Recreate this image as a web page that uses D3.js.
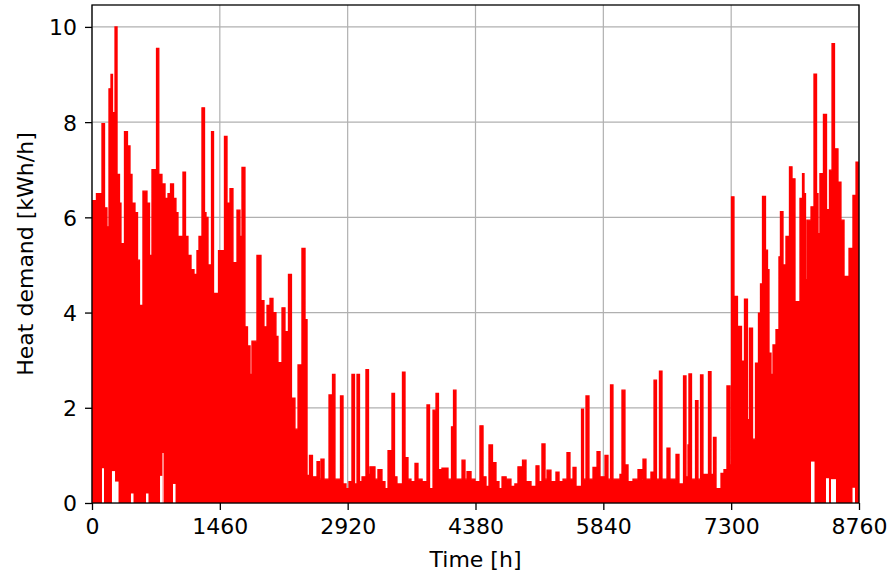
<!DOCTYPE html>
<html><head><meta charset="utf-8">
<script src="https://cdn.jsdelivr.net/npm/d3@7"></script>
<style>body{margin:0;background:#fff} text{font-family:"DejaVu Sans",sans-serif;fill:#000}</style>
</head><body><svg id="c" width="890" height="575"></svg>
<script>
// Tick labels
const xTicks = [0, 1460, 2920, 4380, 5840, 7300, 8760];
const yTicks = [0, 2, 4, 6, 8, 10];

// Heat demand profile [hour, kWh/h] (value held until next hour listed)
const winterStart = [[0,6.35],[51,6.5],[114,7.97],[143,6.2],[171,5.8],[194,8.7],[217,9.0],[234,8.2],[263,10.0],[286,6.9],[314,6.3],[331,5.45],[371,7.8],[405,7.5],[434,6.9],[457,6.3],[491,6.1],[520,5.1],[542,4.15],[582,6.55],[628,6.3],[657,5.2],[685,7.0],[737,9.55],[763,6.9],[799,6.7],[834,6.4],[868,6.5],[897,6.7],[931,6.4],[959,6.1],[982,5.6],[1039,6.95],[1068,5.6],[1096,5.2],[1131,4.9],[1165,4.8],[1199,5.3],[1222,5.6],[1256,8.3],[1285,6.1],[1302,6.0],[1325,5.0],[1365,7.8],[1388,4.4],[1445,5.3],[1513,7.7],[1542,6.3],[1576,6.6],[1610,5.05],[1656,6.15],[1690,5.6],[1713,7.05],[1747,3.7],[1776,3.3],[1805,2.7],[1827,3.4],[1884,5.2],[1930,4.25],[1964,3.7],[1999,4.15],[2033,4.3],[2067,4.0],[2101,3.5],[2124,2.95],[2170,4.1],[2204,3.6],[2244,4.8],[2278,2.2],[2318,1.55],[2353,2.9],[2398,5.35],[2433,3.85],[2456,0.58]];
const summer = [[2484,1.0],[2518,0.55],[2570,0.87],[2598,0.5],[2615,0.92],[2650,0.5],[2707,2.27],[2735,0.6],[2747,2.7],[2775,0.5],[2838,2.25],[2867,0.4],[2901,0.3],[2935,0.45],[2969,2.7],[2998,0.4],[3027,2.7],[3055,0.45],[3084,0.55],[3129,2.8],[3158,0.6],[3175,0.76],[3232,0.5],[3266,0.7],[3312,0.45],[3346,0.3],[3381,1.1],[3426,2.3],[3455,0.55],[3483,0.4],[3546,2.75],[3575,0.95],[3609,0.5],[3643,0.45],[3689,0.83],[3723,0.5],[3770,0.45],[3826,2.06],[3855,0.3],[3895,1.95],[3929,2.3],[3957,0.7],[3997,0.73],[4066,0.5],[4106,1.6],[4129,2.37],[4157,0.5],[4226,0.9],[4260,0.5],[4283,0.66],[4329,0.5],[4374,0.45],[4431,1.62],[4466,0.55],[4500,0.35],[4534,1.22],[4574,0.85],[4614,0.45],[4648,0.3],[4683,0.55],[4730,0.5],[4785,0.35],[4830,0.4],[4865,0.76],[4917,0.9],[4957,0.45],[5014,0.35],[5071,0.78],[5105,0.45],[5139,1.24],[5174,0.5],[5197,0.69],[5242,0.45],[5299,0.65],[5334,0.45],[5380,0.5],[5425,1.06],[5459,0.5],[5494,0.75],[5528,0.35],[5591,1.97],[5614,0.5],[5642,2.25],[5676,0.5],[5722,0.75],[5768,1.08],[5802,0.55],[5859,1.0],[5893,0.5],[5922,2.48],[5950,0.5],[6030,0.6],[6053,2.37],[6087,0.8],[6122,0.45],[6179,0.5],[6236,0.7],[6282,0.5],[6293,0.92],[6327,0.5],[6384,0.65],[6419,2.58],[6447,0.5],[6481,2.77],[6510,0.5],[6567,1.15],[6601,0.5],[6670,1.02],[6704,0.4],[6756,2.67],[6784,0.55],[6807,1.22],[6818,2.71],[6847,0.5],[6893,2.15],[6921,0.5],[6950,2.69],[6978,0.6],[7041,2.76],[7070,0.6],[7098,1.38],[7127,0.3],[7184,0.62],[7218,0.7],[7252,2.46],[7287,0.8]];
const winterEnd = [[7304,6.43],[7332,4.34],[7372,3.71],[7418,2.98],[7452,4.28],[7486,1.75],[7509,3.67],[7544,1.34],[7578,2.94],[7612,3.99],[7635,4.6],[7658,6.44],[7692,5.31],[7715,4.9],[7732,3.15],[7755,2.7],[7778,3.32],[7812,3.64],[7846,5.17],[7863,6.12],[7892,5.0],[7926,5.6],[7966,7.06],[7995,6.81],[8029,4.23],[8086,6.4],[8115,6.92],[8132,6.5],[8149,4.69],[8166,5.94],[8212,6.22],[8246,9.01],[8275,6.5],[8292,5.66],[8314,6.92],[8354,8.16],[8389,6.16],[8423,6.99],[8452,9.65],[8480,7.44],[8520,6.74],[8554,5.94],[8589,4.76],[8646,5.35],[8691,6.46],[8726,7.16],[8760,7.16]];

// Daily minima that leave white gaps at the bottom: [fromHour, toHour, kWh/h]
const troughs = [[114,137,0.73],[228,263,0.67],[263,303,0.45],[445,474,0.2],[617,645,0.2],[777,805,0.57],[805,817,1.05],[925,954,0.4],[8212,8252,0.87],[8383,8417,0.52],[8440,8497,0.5],[8686,8714,0.32]];

const W = 890, H = 575;
const m = {l: 92, r: 31, t: 5, b: 72};
const svg = d3.select('#c');
const x = d3.scaleLinear().domain([0, 8760]).range([m.l, W - m.r]);
const y = d3.scaleLinear().domain([0, 10.46]).range([H - m.b, m.t]);

const data = winterStart.concat(summer, winterEnd);

// grid
const g = svg.append('g');
g.selectAll('line.gx').data(xTicks).join('line')
  .attr('x1', d => x(d)).attr('x2', d => x(d)).attr('y1', y.range()[0]).attr('y2', y.range()[1])
  .attr('stroke', '#b0b0b0').attr('stroke-width', 1.2);
g.selectAll('line.gy').data(yTicks).join('line')
  .attr('y1', d => y(d)).attr('y2', d => y(d)).attr('x1', x.range()[0]).attr('x2', x.range()[1])
  .attr('stroke', '#b0b0b0').attr('stroke-width', 1.2);

// data
const area = d3.area().x(d => x(d[0])).y0(y(0)).y1(d => y(d[1])).curve(d3.curveStepAfter);
const line = d3.line().x(d => x(d[0])).y(d => y(d[1])).curve(d3.curveStepAfter);
svg.append('path').datum(data).attr('d', area).attr('fill', '#ff0000');
svg.append('path').datum(data).attr('d', line).attr('fill', 'none').attr('stroke', '#ff0000').attr('stroke-width', 1.3);
svg.selectAll('rect.tr').data(troughs).join('rect')
  .attr('x', d => x(d[0])).attr('width', d => x(d[1]) - x(d[0]))
  .attr('y', d => y(d[2])).attr('height', d => y(0) - y(d[2]))
  .attr('fill', '#fff');

// axes
const ax = svg.append('g').attr('transform', `translate(0,${y(0)})`)
  .call(d3.axisBottom(x).tickValues(xTicks).tickFormat(d3.format('d')).tickSize(7).tickPadding(8));
const ay = svg.append('g').attr('transform', `translate(${x(0)},0)`)
  .call(d3.axisLeft(y).tickValues(yTicks).tickFormat(d3.format('d')).tickSize(7).tickPadding(8));
[ax, ay].forEach(a => {
  a.select('.domain').remove();
  a.selectAll('line').attr('stroke', '#000').attr('stroke-width', 1.3);
  a.selectAll('text').attr('font-size', 22).attr('font-family', '"DejaVu Sans",sans-serif').attr('fill', '#222');
});
ay.selectAll('text').attr('dy', '0.36em');
ax.selectAll('text').attr('dy', '0.72em');

// frame
svg.append('rect').attr('x', x(0)).attr('y', y(10.46)).attr('width', x(8760) - x(0)).attr('height', y(0) - y(10.46))
  .attr('fill', 'none').attr('stroke', '#000').attr('stroke-width', 1.3);

// labels
svg.append('text').attr('x', (x(0) + x(8760)) / 2).attr('y', 567).attr('text-anchor', 'middle')
  .attr('font-size', 22).attr('fill', '#222').text('Time [h]');
svg.append('text').attr('transform', `translate(33,${(y(0) + y(10.46)) / 2}) rotate(-90)`).attr('text-anchor', 'middle')
  .attr('font-size', 22).attr('fill', '#222').text('Heat demand [kWh/h]');
</script></body></html>
